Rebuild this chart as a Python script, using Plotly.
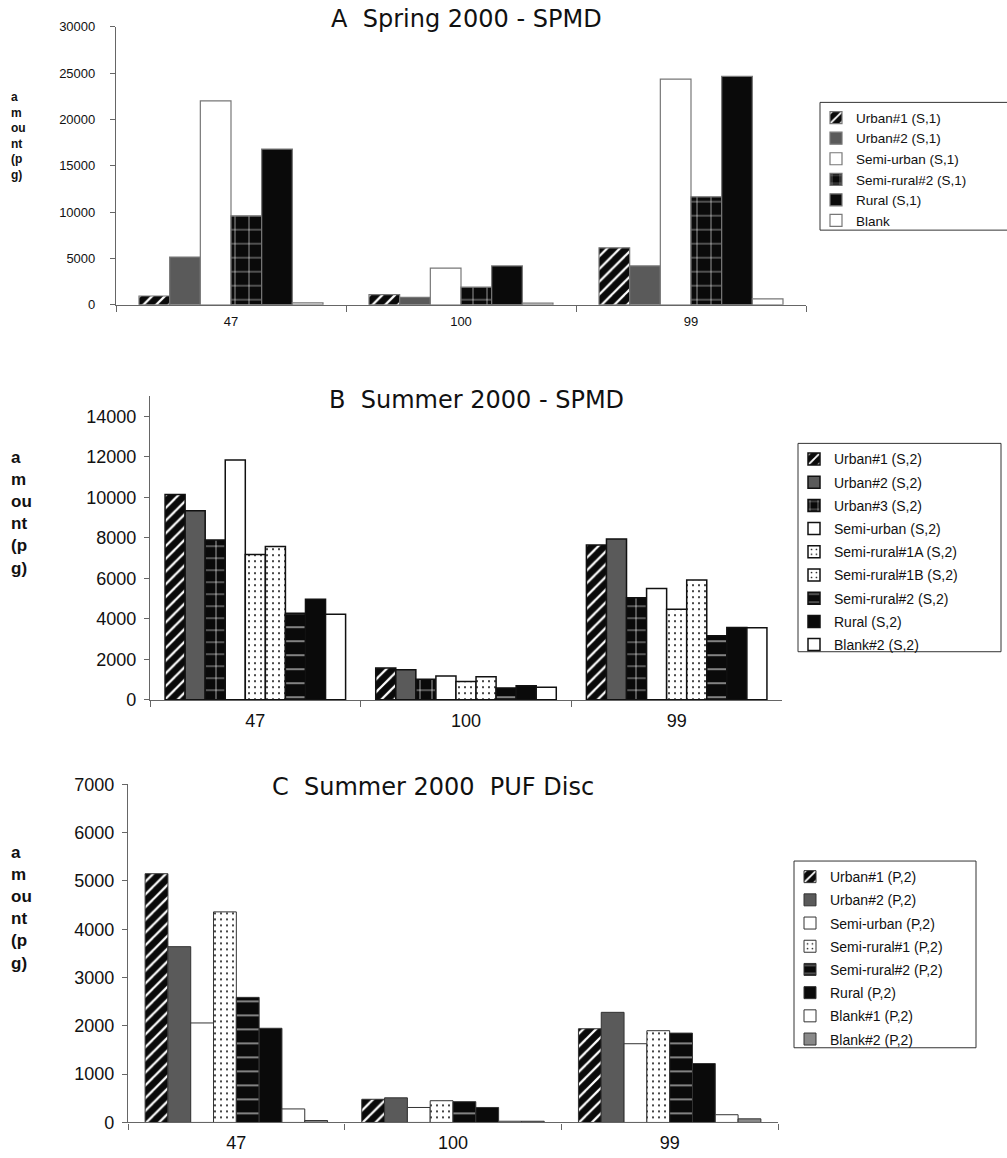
import plotly.graph_objects as go

W, H = 1007, 1158

categories = ["47", "100", "99"]

# Panel A  Spring 2000 - SPMD
a_names = ["Urban#1 (S,1)", "Urban#2 (S,1)", "Semi-urban (S,1)",
           "Semi-rural#2 (S,1)", "Rural (S,1)", "Blank"]
a_urban1 = [950, 1100, 6150]
a_urban2 = [5150, 800, 4200]
a_semiurban = [22000, 3950, 24350]
a_semirural2 = [9600, 1900, 11650]
a_rural = [16800, 4200, 24650]
a_blank = [200, 180, 650]

# Panel B  Summer 2000 - SPMD
b_names = ["Urban#1 (S,2)", "Urban#2 (S,2)", "Urban#3 (S,2)", "Semi-urban (S,2)",
           "Semi-rural#1A (S,2)", "Semi-rural#1B (S,2)", "Semi-rural#2 (S,2)",
           "Rural (S,2)", "Blank#2 (S,2)"]
b_urban1 = [10150, 1570, 7650]
b_urban2 = [9340, 1490, 7950]
b_urban3 = [7900, 1020, 5040]
b_semiurban = [11850, 1180, 5500]
b_semirural1a = [7180, 910, 4480]
b_semirural1b = [7580, 1140, 5920]
b_semirural2 = [4280, 590, 3170]
b_rural = [4970, 700, 3570]
b_blank2 = [4230, 620, 3560]

# Panel C  Summer 2000 PUF Disc
c_names = ["Urban#1 (P,2)", "Urban#2 (P,2)", "Semi-urban (P,2)", "Semi-rural#1 (P,2)",
           "Semi-rural#2 (P,2)", "Rural (P,2)", "Blank#1 (P,2)", "Blank#2 (P,2)"]
c_urban1 = [5150, 480, 1940]
c_urban2 = [3640, 510, 2280]
c_semiurban = [2060, 310, 1630]
c_semirural1 = [4360, 450, 1900]
c_semirural2 = [2590, 430, 1850]
c_rural = [1950, 310, 1220]
c_blank1 = [280, 25, 160]
c_blank2 = [40, 25, 75]

# styles
BLACK = "#0a0a0a"
DGRAY = "#5a5a5a"
MGRAY = "#8a8a8a"
WHITE = "#ffffff"

def pat(shape, fg, bg, size=8, sol=0.3):
    return dict(shape=shape, fgcolor=fg, bgcolor=bg, size=size, solidity=sol,
                fillmode="replace")

STY = {
    "urban1": dict(color=BLACK, pattern=pat("/", WHITE, BLACK, 9, 0.25)),
    "urban2": dict(color=DGRAY),
    "urban3": dict(color=BLACK, pattern=pat("+", WHITE, BLACK, 12, 0.1)),
    "semiurban": dict(color=WHITE),
    "semirural1": dict(color=WHITE, pattern=pat(".", BLACK, WHITE, 6, 0.09)),
    "semirural2_a": dict(color=BLACK, pattern=pat("+", WHITE, BLACK, 14, 0.08)),
    "semirural2_b": dict(color=BLACK, pattern=pat("-", WHITE, BLACK, 14, 0.07)),
    "rural": dict(color=BLACK),
    "blank": dict(color=WHITE),
    "blank_gray": dict(color=MGRAY),
}

panels = [
    dict(ax="", legend="legend", frac=0.80, line=dict(color="#777777", width=1.2),
         series=[(a_names[0], a_urban1, "urban1"), (a_names[1], a_urban2, "urban2"),
                 (a_names[2], a_semiurban, "semiurban"), (a_names[3], a_semirural2, "semirural2_a"),
                 (a_names[4], a_rural, "rural"), (a_names[5], a_blank, "blank")]),
    dict(ax="2", legend="legend2", frac=0.857, line=dict(color="#111111", width=1.5),
         series=[(b_names[0], b_urban1, "urban1"), (b_names[1], b_urban2, "urban2"),
                 (b_names[2], b_urban3, "urban3"), (b_names[3], b_semiurban, "semiurban"),
                 (b_names[4], b_semirural1a, "semirural1"), (b_names[5], b_semirural1b, "semirural1"),
                 (b_names[6], b_semirural2, "semirural2_b"), (b_names[7], b_rural, "rural"),
                 (b_names[8], b_blank2, "blank")]),
    dict(ax="3", legend="legend3", frac=0.842, line=dict(color="#333333", width=1.0),
         series=[(c_names[0], c_urban1, "urban1"), (c_names[1], c_urban2, "urban2"),
                 (c_names[2], c_semiurban, "semiurban"), (c_names[3], c_semirural1, "semirural1"),
                 (c_names[4], c_semirural2, "semirural2_b"), (c_names[5], c_rural, "rural"),
                 (c_names[6], c_blank1, "blank"), (c_names[7], c_blank2, "blank_gray")]),
]

fig = go.Figure()
for pi, p in enumerate(panels):
    n = len(p["series"])
    w = p["frac"] / n
    for i, (name, vals, sk) in enumerate(p["series"]):
        m = dict(STY[sk])
        m["line"] = p["line"]
        fig.add_trace(go.Bar(
            x=categories, y=vals, name=name, marker=m,
            width=w, offset=-p["frac"] / 2 + i * w,
            legendgroup=f"p{pi}s{i}",
            xaxis="x" + p["ax"], yaxis="y" + p["ax"], legend=p["legend"],
        ))

def px_x(v):
    return v / W

def px_y(v):
    return 1 - v / H

TICKFONT_A = dict(family="Liberation Sans Narrow, Arial Narrow, Liberation Sans", size=13, color="#111")
TICKFONT_B = dict(family="Liberation Sans Narrow, Arial Narrow, Liberation Sans", size=18, color="#111")
AXC = "#666666"

def xaxis(dom, anchor, font):
    return dict(domain=dom, anchor=anchor, type="category", showline=True, linecolor=AXC,
                linewidth=1.2, ticks="outside", tickson="boundaries", ticklen=6, tickcolor=AXC,
                tickfont=font, showgrid=False, zeroline=False, fixedrange=True,
                ticklabelstandoff=4)

def yaxis(dom, anchor, rng, dtick, font, standoff):
    return dict(domain=dom, anchor=anchor, range=rng, dtick=dtick, showline=True,
                linecolor=AXC, linewidth=1.2, ticks="outside", ticklen=5, tickcolor=AXC,
                tickfont=font, showgrid=False, zeroline=False, fixedrange=True,
                tickformat="d", ticklabelstandoff=standoff)

LEGFONT = "Liberation Sans, Arial"
CLEAR = "rgba(0,0,0,0)"
fig.update_layout(
    width=W, height=H, margin=dict(l=0, r=0, t=0, b=0),
    paper_bgcolor="white", plot_bgcolor="white",
    barmode="group", showlegend=True,
    font=dict(family="Liberation Sans, Arial", color="#111"),
    xaxis=xaxis([px_x(116), px_x(806)], "y", TICKFONT_A),
    yaxis=yaxis([px_y(300), px_y(17)], "x", [0, 30000], 5000, TICKFONT_A, 12),
    xaxis2=xaxis([px_x(150), px_x(782)], "y2", TICKFONT_B),
    yaxis2=yaxis([px_y(702), px_y(393)], "x2", [0, 15000], 2000, TICKFONT_B, 4),
    xaxis3=xaxis([px_x(128), px_x(778)], "y3", TICKFONT_B),
    yaxis3=yaxis([px_y(1132), px_y(788)], "x3", [0, 7000], 1000, TICKFONT_B, 4),
    legend=dict(x=px_x(816), y=px_y(94), xanchor="left", yanchor="top",
                borderwidth=0, bgcolor=CLEAR,
                font=dict(family=LEGFONT, size=13.5, color="#111"),
                tracegroupgap=0, itemwidth=30),
    legend2=dict(x=px_x(794), y=px_y(441), xanchor="left", yanchor="top",
                 borderwidth=0, bgcolor=CLEAR,
                 font=dict(family=LEGFONT, size=14, color="#111"),
                 tracegroupgap=2, itemwidth=30),
    legend3=dict(x=px_x(790), y=px_y(866), xanchor="left", yanchor="top",
                 borderwidth=0, bgcolor=CLEAR,
                 font=dict(family=LEGFONT, size=14, color="#111"),
                 tracegroupgap=2, itemwidth=30),
)

# legend frames
frames = [(820, 1012, 94, 224), (798, 1001, 441, 653), (794, 976, 866, 1056)]
for x0, x1, y0, y1 in frames:
    fig.add_shape(type="rect", xref="paper", yref="paper",
                  x0=px_x(x0), x1=px_x(x1), y0=px_y(y0), y1=px_y(y1),
                  line=dict(color="#333", width=1), fillcolor=CLEAR, layer="above")

TITLEFONT = dict(family="DejaVu Sans, Liberation Sans", size=24, color="#111")
titles = [("A  Spring 2000 - SPMD", 466, 9), ("B  Summer 2000 - SPMD", 476, 397),
          ("C  Summer 2000  PUF Disc", 433, 791)]
for t, x, y in titles:
    fig.add_annotation(text=t, x=px_x(x), y=px_y(y), xref="paper", yref="paper",
                       showarrow=False, font=TITLEFONT, xanchor="center", yanchor="middle")

ylabels = [(79, 12), (444, 17), (846, 17)]
for ytop, fs in ylabels:
    fig.add_annotation(text="<b>a<br>m<br>ou<br>nt<br>(p<br>g)</b>", x=px_x(9), y=px_y(ytop),
                       xref="paper", yref="paper", showarrow=False, align="left",
                       font=dict(family="Liberation Sans, Arial", size=fs, color="#111"),
                       xanchor="left", yanchor="top")

fig.write_html("out.html", config={"displayModeBar": False},
               post_script="document.body.style.margin='0';document.body.style.overflow='hidden';")
